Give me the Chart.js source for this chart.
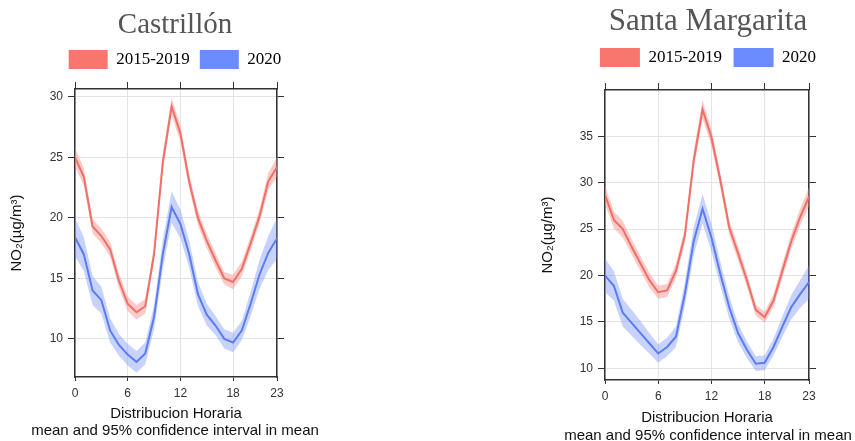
<!DOCTYPE html>
<html>
<head>
<meta charset="utf-8">
<script src="https://cdn.jsdelivr.net/npm/chart.js@4.4.1/dist/chart.umd.min.js"></script>
<style>
  html, body { margin: 0; padding: 0; background: #fff; overflow: hidden; width: 855px; height: 441px; }
  .panel { position: absolute; top: 0; }
  #left { left: 0; width: 350px; height: 441px; }
  #right { left: 520px; width: 376px; height: 446px; }
</style>
</head>
<body>
<div class="panel" id="left"><canvas id="chartLeft" width="350" height="441"></canvas></div>
<div class="panel" id="right"><canvas id="chartRight" width="376" height="446"></canvas></div>
<script>
// horas del dia
const hours = [0,1,2,3,4,5,6,7,8,9,10,11,12,13,14,15,16,17,18,19,20,21,22,23];
const xTicks = [0, 6, 12, 18, 23];
const seriesNames = ['2015-2019', '2020'];

// Castrillon
const castrillonPrev = [25.0,23.4,19.3,18.5,17.4,14.8,12.9,12.2,12.7,17.0,24.6,29.2,27.0,23.0,20.0,18.1,16.5,15.0,14.7,15.8,17.9,20.1,23.0,24.2];
const castrillonPrevCI = [0.8,0.7,0.6,0.6,0.6,0.6,0.6,0.6,0.6,0.6,0.7,0.7,0.7,0.6,0.6,0.6,0.6,0.5,0.6,0.6,0.6,0.6,0.7,0.8];
const castrillon2020 = [18.4,17.0,14.0,13.2,10.7,9.5,8.7,8.1,8.8,11.8,17.0,20.9,19.5,17.0,13.7,12.0,11.1,10.0,9.7,10.7,12.9,15.3,17.1,18.3];
const castrillon2020CI = [1.6,1.4,1.2,1.1,1.0,0.9,0.9,0.9,0.9,1.0,1.2,1.3,1.2,1.1,1.0,0.9,0.8,0.8,0.8,0.8,1.0,1.2,1.4,1.7];
const castrillonYTicks = [10, 15, 20, 25, 30];

// Santa Margarita
const margaritaPrev = [28.7,26.0,25.0,23.1,21.3,19.5,18.2,18.4,20.5,24.3,32.4,37.9,34.9,30.3,25.2,22.4,19.5,16.3,15.5,17.3,20.5,23.7,26.3,28.5];
const margaritaPrevCI = [1.0,0.9,0.9,0.8,0.8,0.8,0.7,0.7,0.8,0.8,0.9,1.0,0.9,0.8,0.8,0.8,0.7,0.6,0.6,0.7,0.8,0.8,0.9,1.0];
const margarita2020 = [20.0,18.9,16.0,14.9,13.8,12.7,11.6,12.3,13.4,18.0,23.7,27.2,24.1,20.2,16.6,13.8,12.0,10.5,10.6,12.3,14.5,16.6,18.0,19.3];
const margarita2020CI = [1.8,1.6,1.5,1.4,1.3,1.1,1.0,1.0,1.1,1.3,1.5,1.6,1.5,1.3,1.2,1.0,0.9,0.8,0.8,0.9,1.1,1.3,1.5,1.8];
const margaritaYTicks = [10, 15, 20, 25, 30, 35];

const colors = {
  prevLine: '#f07068',
  prevBand: 'rgba(244,140,132,0.45)',
  prevBox: '#f8766d',
  newLine: '#5b7cf2',
  newBand: 'rgba(110,140,250,0.38)',
  newBox: '#6a8cff',
  axis: '#333333',
  grid: '#e4e4e4'
};

const SANS = "'Liberation Sans', Arial, sans-serif";
const SERIF = "'Liberation Serif', 'Times New Roman', serif";

function band(mean, ci, sign) {
  return mean.map((v, i) => v + sign * ci[i]);
}

function makePanel(canvasId, p) {
  const datasets = [
    { data: band(p.prev, p.prevCI, -1), borderWidth: 0, pointRadius: 0, fill: false, order: 2 },
    { data: band(p.prev, p.prevCI, 1), borderWidth: 0, pointRadius: 0, backgroundColor: colors.prevBand, fill: 0, order: 2 },
    { data: band(p.now, p.nowCI, -1), borderWidth: 0, pointRadius: 0, fill: false, order: 2 },
    { data: band(p.now, p.nowCI, 1), borderWidth: 0, pointRadius: 0, backgroundColor: colors.newBand, fill: 2, order: 2 },
    { label: seriesNames[0], data: p.prev, borderColor: colors.prevLine, borderWidth: 2, pointRadius: 0, fill: false, order: 1 },
    { label: seriesNames[1], data: p.now, borderColor: colors.newLine, borderWidth: 2, pointRadius: 0, fill: false, order: 1 }
  ];

  const tickSet = (vals) => (scale) => { scale.ticks = vals.map(v => ({ value: v })); };

  new Chart(document.getElementById(canvasId), {
    type: 'line',
    data: { labels: hours, datasets: datasets },
    options: {
      responsive: false,
      animation: false,
      events: [],
      layout: { padding: 0 },
      plugins: {
        tooltip: { enabled: false },
        title: {
          display: true,
          text: p.title,
          color: '#555555',
          font: { family: SERIF, size: p.titleSize, weight: 'normal', lineHeight: p.titleLH },
          padding: { top: p.titleTop, bottom: 0 }
        },
        subtitle: {
          display: true,
          position: 'bottom',
          text: 'mean and 95% confidence interval in mean',
          color: '#111',
          font: { family: SANS, size: 15, weight: 'normal', lineHeight: 1.2 },
          padding: { top: 0, bottom: p.subBottom }
        },
        legend: {
          display: true,
          labels: {
            boxWidth: p.boxW,
            boxHeight: 19,
            padding: p.legendPad,
            color: '#111111',
            font: { family: SERIF, size: 17 },
            generateLabels: () => [
              { text: seriesNames[0], fillStyle: colors.prevBox, strokeStyle: colors.prevBox, lineWidth: 0, datasetIndex: 4 },
              { text: seriesNames[1], fillStyle: colors.newBox, strokeStyle: colors.newBox, lineWidth: 0, datasetIndex: 5 }
            ]
          }
        }
      },
      scales: {
        x: {
          type: 'linear',
          position: 'bottom',
          min: 0,
          max: 23,
          afterBuildTicks: tickSet(xTicks),
          afterFit: (s) => { s.height = p.xAxisHeight; },
          border: { color: colors.axis, width: 1.5 },
          grid: { color: colors.grid, tickColor: colors.axis, tickLength: 4 },
          ticks: { color: '#333', padding: 5, maxRotation: 0, font: { family: SANS, size: 12 } },
          title: {
            display: true,
            text: 'Distribucion Horaria',
            color: '#111',
            font: { family: SANS, size: 15, lineHeight: 1.2 },
            padding: { top: 0, bottom: p.xTitleBottom }
          }
        },
        x2: {
          type: 'linear',
          position: 'top',
          min: 0,
          max: 23,
          afterBuildTicks: tickSet(xTicks),
          afterFit: (s) => { s.height = p.topAxisHeight; },
          border: { color: colors.axis, width: 1.5 },
          grid: { drawOnChartArea: false, tickColor: colors.axis, tickLength: 7 },
          ticks: { display: false }
        },
        y: {
          type: 'linear',
          position: 'left',
          min: p.yMin,
          max: p.yMax,
          afterBuildTicks: tickSet(p.yTicks),
          afterFit: (s) => { s.width = p.yAxisWidth; },
          border: { color: colors.axis, width: 1.5 },
          grid: { color: colors.grid, tickColor: colors.axis, tickLength: 7 },
          ticks: { color: '#333', padding: 5, font: { family: SANS, size: 12 } },
          title: {
            display: true,
            text: 'NO\u2082(\u00b5g/m\u00b3)',
            color: '#111',
            font: { family: SANS, size: 15, lineHeight: 1.2 },
            padding: { top: p.yTitleOuter, bottom: 4 }
          }
        },
        y2: {
          type: 'linear',
          position: 'right',
          min: p.yMin,
          max: p.yMax,
          afterBuildTicks: tickSet(p.yTicks),
          afterFit: (s) => { s.width = p.rightAxisWidth; },
          border: { color: colors.axis, width: 1.5 },
          grid: { drawOnChartArea: false, tickColor: colors.axis, tickLength: 7 },
          ticks: { display: false }
        }
      }
    }
  });
}

makePanel('chartLeft', {
  title: 'Castrill\u00f3n',
  prev: castrillonPrev, prevCI: castrillonPrevCI,
  now: castrillon2020, nowCI: castrillon2020CI,
  yMin: 6.85, yMax: 30.65, yTicks: castrillonYTicks,
  titleSize: 29, titleLH: 1.034, titleTop: 10, legendPad: 10, boxW: 39,
  yTitleOuter: 8, yAxisWidth: 75, rightAxisWidth: 73, topAxisHeight: 10,
  xAxisHeight: 45, xTitleBottom: -0.5, subBottom: 1
});

makePanel('chartRight', {
  title: 'Santa Margarita',
  prev: margaritaPrev, prevCI: margaritaPrevCI,
  now: margarita2020, nowCI: margarita2020CI,
  yMin: 8.74, yMax: 40, yTicks: margaritaYTicks,
  titleSize: 31, titleLH: 0.968, titleTop: 6.5, legendPad: 11.5, boxW: 40,
  yTitleOuter: 19, yAxisWidth: 85, rightAxisWidth: 87, topAxisHeight: 13,
  xAxisHeight: 47, xTitleBottom: 0.5, subBottom: 1
});
</script>
</body>
</html>
